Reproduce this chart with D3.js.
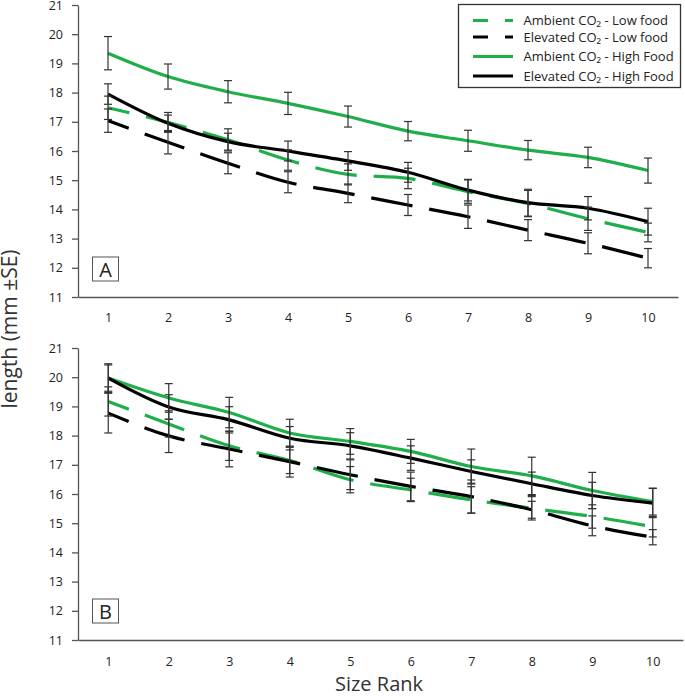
<!DOCTYPE html>
<html>
<head>
<meta charset="utf-8">
<script src="https://cdn.jsdelivr.net/npm/d3@7"></script>
<style>
  body { margin: 0; background: #fff; }
  svg { display: block; font-family: "Open Sans", sans-serif; }
</style>
</head>
<body>
<svg id="chart" width="685" height="697"></svg>
<script>
// ---------- DATA ----------
const sizeRanks = ["1","2","3","4","5","6","7","8","9","10"];
const yTicks = [11,12,13,14,15,16,17,18,19,20,21];
const seriesNames = ["Ambient CO\u2082 - Low food", "Elevated CO\u2082 - Low food", "Ambient CO\u2082 - High Food", "Elevated CO\u2082 - High Food"];

// Panel A
const aAmbientLow   = [17.48, 16.98, 16.38, 15.69, 15.20, 15.06, 14.61, 14.20, 13.68, 13.21];
const aElevatedLow  = [17.04, 16.30, 15.58, 14.93, 14.55, 14.15, 13.75, 13.29, 12.84, 12.33];
const aAmbientHigh  = [19.35, 18.55, 18.03, 17.63, 17.18, 16.68, 16.35, 16.03, 15.78, 15.33];
const aElevatedHigh = [17.95, 16.95, 16.32, 16.00, 15.66, 15.27, 14.66, 14.23, 14.04, 13.58];
const aSeAmbientLow   = [0.40, 0.34, 0.38, 0.35, 0.36, 0.35, 0.40, 0.45, 0.40, 0.32];
const aSeElevatedLow  = [0.40, 0.40, 0.36, 0.36, 0.32, 0.36, 0.40, 0.36, 0.36, 0.33];
const aSeAmbientHigh  = [0.57, 0.43, 0.38, 0.38, 0.36, 0.33, 0.36, 0.33, 0.35, 0.43];
const aSeElevatedHigh = [0.35, 0.28, 0.29, 0.34, 0.32, 0.34, 0.37, 0.46, 0.40, 0.46];

// Panel B
const bAmbientLow   = [19.17, 18.40, 17.65, 17.15, 16.49, 16.14, 15.80, 15.51, 15.23, 14.88];
const bElevatedLow  = [18.77, 17.99, 17.54, 17.11, 16.66, 16.26, 15.91, 15.46, 14.91, 14.52];
const bAmbientHigh  = [19.97, 19.29, 18.79, 18.09, 17.80, 17.46, 16.94, 16.62, 16.12, 15.74];
const bElevatedHigh = [19.97, 18.98, 18.54, 17.91, 17.65, 17.23, 16.77, 16.35, 15.95, 15.69];
const bSeAmbientLow   = [0.50, 0.45, 0.50, 0.45, 0.45, 0.40, 0.45, 0.40, 0.40, 0.35];
const bSeElevatedLow  = [0.68, 0.57, 0.61, 0.53, 0.51, 0.49, 0.57, 0.29, 0.34, 0.26];
const bSeAmbientHigh  = [0.49, 0.49, 0.52, 0.47, 0.44, 0.41, 0.60, 0.64, 0.62, 0.46];
const bSeElevatedHigh = [0.45, 0.42, 0.45, 0.40, 0.45, 0.42, 0.40, 0.40, 0.45, 0.50];

// ---------- STYLE ----------
const GREEN = "#1fae4a", BLACK = "#000000";
const styles = [
  {color: GREEN, dash: true},
  {color: BLACK, dash: true},
  {color: GREEN, dash: false},
  {color: BLACK, dash: false}
];
const DASH = "42,17";

const svg = d3.select("#chart");

function drawPanel(cfg) {
  const x = d3.scalePoint().domain(sizeRanks).range([cfg.x0, cfg.x1]).padding(0.5);
  const y = d3.scaleLinear().domain([11, 21]).range([cfg.yBottom, cfg.yTop]);
  const g = svg.append("g");

  // y axis
  const ya = g.append("g").attr("transform", `translate(${cfg.x0},0)`)
    .call(d3.axisLeft(y).tickValues(yTicks).tickFormat(d3.format("d")).tickSize(6).tickSizeOuter(0).tickPadding(9));
  ya.select(".domain").attr("stroke", "#555").attr("stroke-width", 1.3);
  ya.selectAll(".tick line").attr("stroke", "#555").attr("stroke-width", 1.3);
  ya.selectAll("text").attr("fill", "#222").style("font-size", "12.5px").style("font-family", "Open Sans");

  // x axis
  const xa = g.append("g").attr("transform", `translate(0,${cfg.yBottom})`)
    .call(d3.axisBottom(x).tickSize(0).tickSizeOuter(0).tickPadding(cfg.xPad));
  xa.select(".domain").attr("stroke", "#555").attr("stroke-width", 1.3);
  xa.selectAll("text").attr("fill", "#222").style("font-size", "12.5px").style("font-family", "Open Sans");

  const line = d3.line().x((d, i) => x(sizeRanks[i])).y(d => y(d)).curve(d3.curveMonotoneX);

  cfg.series.forEach((vals, si) => {
    g.append("path").datum(vals)
      .attr("d", line)
      .attr("fill", "none")
      .attr("stroke", styles[si].color)
      .attr("stroke-width", 3.2)
      .attr("stroke-dasharray", styles[si].dash ? DASH : null)
      .attr("stroke-dashoffset", styles[si].dash ? 20 : null);
  });

  // error bars
  cfg.series.forEach((vals, si) => {
    const se = cfg.se[si];
    const eb = g.append("g").attr("stroke", "#333").attr("stroke-width", 1.2);
    vals.forEach((v, i) => {
      const cx = x(sizeRanks[i]);
      eb.append("line").attr("x1", cx).attr("x2", cx).attr("y1", y(v - se[i])).attr("y2", y(v + se[i]));
      eb.append("line").attr("x1", cx - 4).attr("x2", cx + 4).attr("y1", y(v - se[i])).attr("y2", y(v - se[i]));
      eb.append("line").attr("x1", cx - 4).attr("x2", cx + 4).attr("y1", y(v + se[i])).attr("y2", y(v + se[i]));
    });
  });

  // panel label
  const lb = g.append("g");
  lb.append("rect").attr("x", 92.5).attr("y", cfg.labelY).attr("width", 26).attr("height", 24)
    .attr("fill", "#fff").attr("stroke", "#555").attr("stroke-width", 1);
  lb.append("text").attr("x", 105.5).attr("y", cfg.labelY + 19.5).attr("text-anchor", "middle")
    .style("font-size", "20px").attr("fill", "#222").text(cfg.label);
}

drawPanel({
  x0: 78, x1: 678, yTop: 5, yBottom: 297, xPad: 16,
  series: [aAmbientLow, aElevatedLow, aAmbientHigh, aElevatedHigh],
  se: [aSeAmbientLow, aSeElevatedLow, aSeAmbientHigh, aSeElevatedHigh],
  label: "A", labelY: 257
});
drawPanel({
  x0: 78, x1: 683, yTop: 348, yBottom: 640, xPad: 17,
  series: [bAmbientLow, bElevatedLow, bAmbientHigh, bElevatedHigh],
  se: [bSeAmbientLow, bSeElevatedLow, bSeAmbientHigh, bSeElevatedHigh],
  label: "B", labelY: 599
});

// legend
const lg = svg.append("g");
lg.append("rect").attr("x", 458.5).attr("y", 4.5).attr("width", 222).attr("height", 83)
  .attr("fill", "#fff").attr("stroke", "#333").attr("stroke-width", 1.3);
const rowY = [20.5, 37, 56.5, 76];
seriesNames.forEach((name, i) => {
  lg.append("line").attr("x1", 473).attr("x2", 513).attr("y1", rowY[i]).attr("y2", rowY[i])
    .attr("stroke", styles[i].color).attr("stroke-width", 3.2)
    .attr("stroke-dasharray", styles[i].dash ? DASH : null)
    .attr("stroke-dashoffset", styles[i].dash ? 27 : null);
  lg.append("text").attr("x", 523.5).attr("y", rowY[i] + 4.5)
    .style("font-size", "13px").attr("fill", "#222").text(name);
});

// axis titles
svg.append("text").attr("transform", "translate(17,329) rotate(-90)")
  .attr("text-anchor", "middle").style("font-size", "21px").attr("fill", "#333")
  .text("length (mm \u00B1SE)");
svg.append("text").attr("x", 379).attr("y", 691).attr("text-anchor", "middle")
  .style("font-size", "20px").attr("fill", "#333").text("Size Rank");
</script>
</body>
</html>
